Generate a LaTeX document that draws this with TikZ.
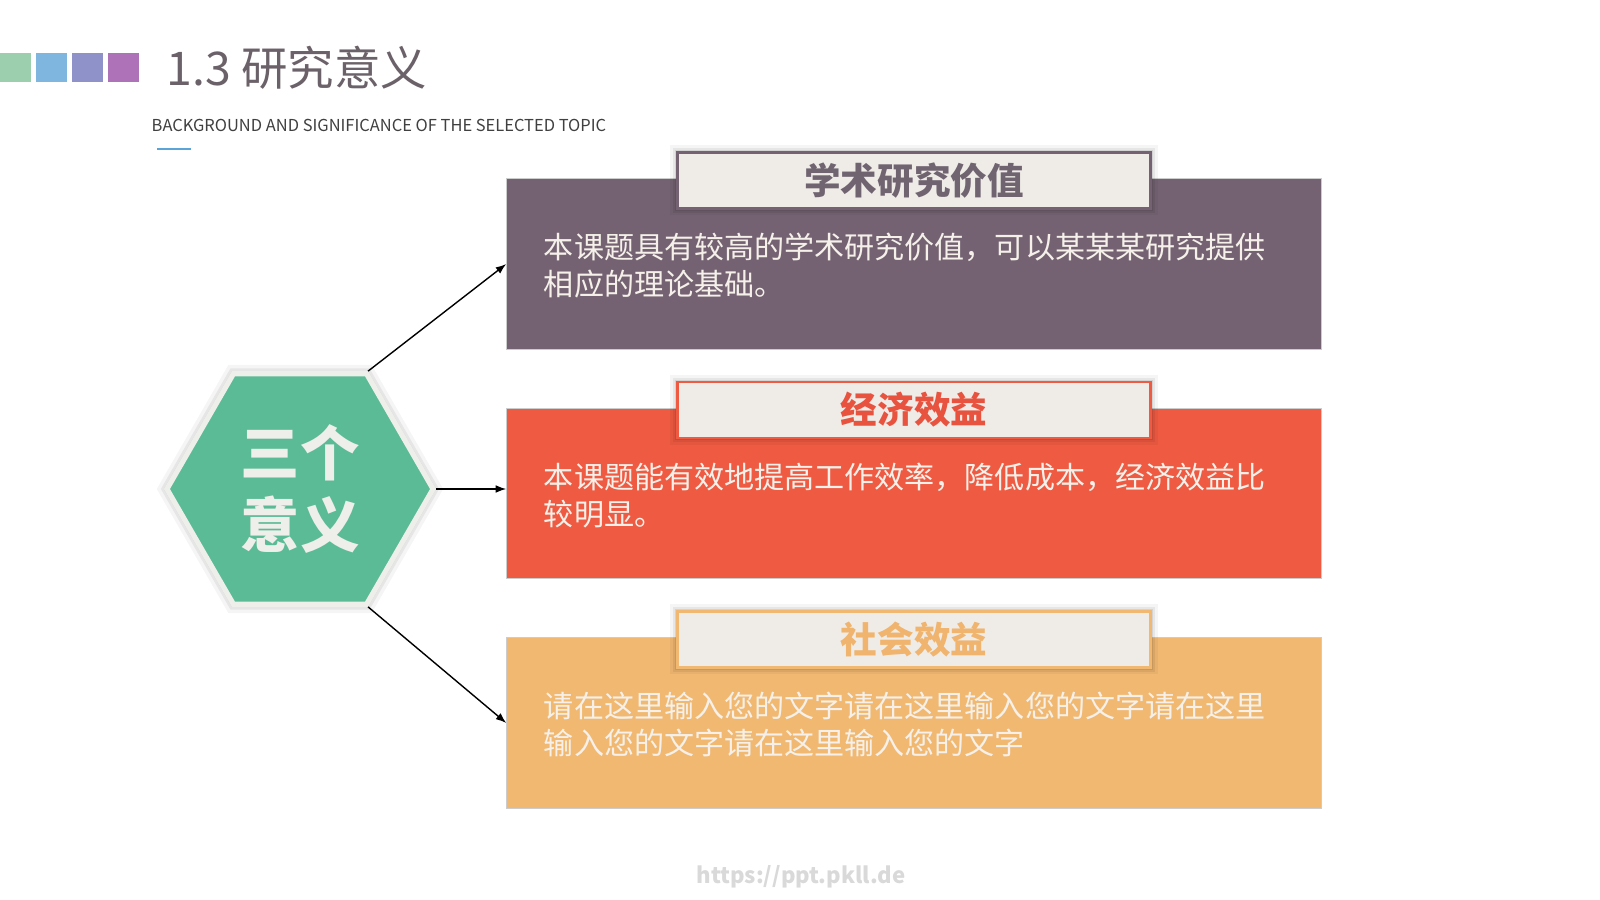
\documentclass[tikz,border=0pt]{standalone}
\usepackage{fontspec}
\setmainfont{Noto Sans CJK SC}
\usetikzlibrary{shapes.geometric,arrows.meta}

\definecolor{sqgreen}{HTML}{9CCFAE}
\definecolor{sqblue}{HTML}{7FB6DF}
\definecolor{sqviolet}{HTML}{8F92C8}
\definecolor{sqmagenta}{HTML}{AD72B8}
\definecolor{titlegray}{HTML}{6B6168}
\definecolor{rulecolor}{HTML}{5BA4D8}
\definecolor{hexgreen}{HTML}{5BBB97}
\definecolor{hexrim}{HTML}{EEEEEA}
\definecolor{cardA}{HTML}{746272}
\definecolor{cardB}{HTML}{EF5A42}
\definecolor{cardC}{HTML}{F1B871}
\definecolor{tagA}{HTML}{6F6470}
\definecolor{tagB}{HTML}{E8533F}
\definecolor{tagC}{HTML}{F0B46E}
\definecolor{tagfill}{HTML}{EFECE8}
\definecolor{bodytext}{HTML}{F5F1EA}

\tikzset{
  glow/.style={preaction={draw=black,opacity=.04,line width=#1},
               preaction={draw=black,opacity=.06,line width=#1*0.6},
               preaction={draw=black,opacity=.08,line width=#1*0.3}},
  card/.style={draw=black!20, line width=0.3pt, minimum width=8.14cm,
               minimum height=1.7cm, inner sep=0pt},
  tag/.style={fill=tagfill, line width=0.7pt, minimum width=4.73cm,
              minimum height=0.56cm, inner sep=0pt, glow=4pt,
              font=\fontsize{10.4pt}{12pt}\selectfont\bfseries},
  body/.style={text=bodytext, align=left, anchor=north west, inner sep=0pt,
               font=\fontsize{8.55pt}{10.5pt}\selectfont},
  link/.style={-{Latex[length=3pt,width=2.2pt]}, line width=0.4pt},
}

\begin{document}
\begin{tikzpicture}[x=0.01cm,y=-0.01cm]
\useasboundingbox (0,0) rectangle (1600,900);
\fill[white] (0,0) rectangle (1600,900);

% header
\foreach \c [count=\i] in {sqgreen,sqblue,sqviolet,sqmagenta}
  \fill[\c] ({(\i-1)*36},53) rectangle ++(31,29);
\node[anchor=west, inner sep=0pt, text=titlegray,
      font=\fontsize{13.2pt}{14pt}\selectfont] (title) at (166,68) {1.3 研究意义};
\node[anchor=west, inner sep=0pt, text=black!75,
      font=\fontsize{4.68pt}{6pt}\selectfont] (subtitle) at (151,125)
      {BACKGROUND AND SIGNIFICANCE OF THE SELECTED TOPIC};
\draw[rulecolor, line width=0.6pt] (157,149) -- (191,149);

% hexagon
\node[regular polygon, regular polygon sides=6, minimum size=2.66cm,
      inner sep=0pt, fill=hexgreen, draw=hexrim, line width=0.052cm, glow=5pt,
      text=hexrim, align=center,
      font=\fontsize{16.9pt}{20.3pt}\selectfont\bfseries] (hex) at (300,489)
      {\raisebox{-4pt}{\shortstack{三个\\[1pt]意义}}};

% cards
\foreach \bc/\tc/\lbl/\txt [count=\i] in {
  cardA/tagA/学术研究价值/{本课题具有较高的学术研究价值，可以某某某研究提供\\相应的理论基础。},
  cardB/tagB/经济效益/{本课题能有效地提高工作效率，降低成本，经济效益比\\较明显。},
  cardC/tagC/社会效益/{请在这里输入您的文字请在这里输入您的文字请在这里\\输入您的文字请在这里输入您的文字}}
{
  \node[card, fill=\bc] (card\i) at (914,{264+(\i-1)*229.5}) {};
  \node[tag, draw=\bc, text=\tc] (tag\i) at ([yshift=-0.02cm]card\i.north) {\lbl};
  \node[body] (body\i) at ([xshift=0.37cm,yshift=-0.54cm]card\i.north west) {\txt};
}

\draw[link] (hex.60) -- (card1.west);
\draw[link] (hex.0) -- (hex.0 -| card2.west);
\draw[link] (hex.-60) -- (card3.west);

\node[text=black!15, font=\fontsize{6.3pt}{7pt}\selectfont\bfseries] (mark)
  at (801,877) {https://ppt.pkll.de};

\end{tikzpicture}
\end{document}
